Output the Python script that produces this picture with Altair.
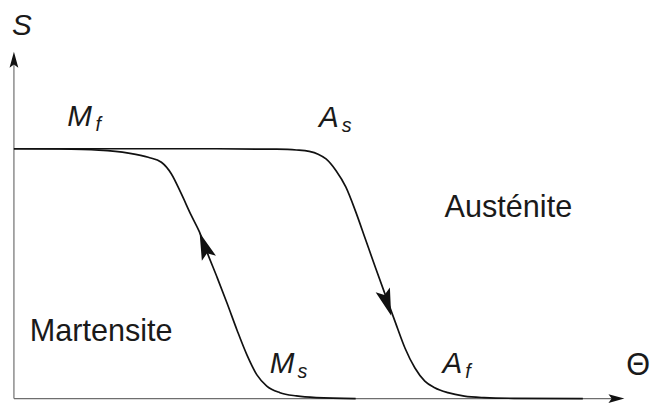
import altair as alt
import pandas as pd

# ---- data (Θ in arbitrary units, S from 0 to 1) ----
left_theta = [0, 0.92, 1.72, 2.32, 2.72, 2.986, 3.186, 3.386, 3.586, 3.754, 3.92,
              4.12, 4.32, 4.52, 4.72, 4.92, 5.12, 5.386, 5.72, 6.12, 6.92]
left_s = [1.0, 0.9988, 0.9941, 0.9822, 0.9656, 0.9458, 0.9000, 0.8209, 0.7352, 0.6680,
          0.5810, 0.4822, 0.3794, 0.2727, 0.1739, 0.0949, 0.0502, 0.0237, 0.0107, 0.0040, 0.0]
right_theta = [0, 3.72, 5.32, 5.72, 5.98, 6.16, 6.32, 6.52, 6.72, 6.92, 7.12, 7.32,
               7.52, 7.72, 7.92, 8.12, 8.32, 8.52, 8.786, 9.12, 9.52, 10.12, 11.52]
right_s = [1.0, 1.0, 0.998, 0.9949, 0.9893, 0.9783, 0.9593, 0.9130, 0.8470, 0.7482,
           0.6364, 0.5245, 0.4150, 0.3071, 0.2016, 0.1225, 0.0699, 0.0435, 0.0237,
           0.0099, 0.0040, 0.0012, 0.0]

# arrowheads on the curves (cooling goes up the left branch, heating down the right)
curve_arrow_theta = [3.854, 7.554]
curve_arrow_s = [0.6126, 0.3834]
curve_arrow_angle = [340, 162]

# axes
axis_x_end = 12.2
axis_y_end = 1.356

# labels
main_text = ["S", "M", "A", "M", "A"]
main_theta = [-0.04, 1.08, 6.18, 5.18, 8.68]
main_s = [1.455, 1.091, 1.087, 0.103, 0.103]
sub_text = ["f", "s", "s", "f"]
sub_theta = [1.65, 6.64, 5.74, 9.14]
sub_s = [1.071, 1.067, 0.083, 0.083]
word_text = ["Austénite", "Martensite", "Θ"]
word_theta = [8.72, 0.32, 12.4]
word_s = [0.727, 0.229, 0.095]

# ---- tables ----
curves = pd.concat([
    pd.DataFrame({"theta": left_theta, "s": left_s, "branch": "cool", "order": range(len(left_theta))}),
    pd.DataFrame({"theta": right_theta, "s": right_s, "branch": "heat", "order": range(len(right_theta))}),
])
curve_arrows = pd.DataFrame({"theta": curve_arrow_theta, "s": curve_arrow_s, "angle": curve_arrow_angle})
axes_df = pd.DataFrame({"theta": [0, 0], "s": [0, 0], "theta2": [axis_x_end, 0], "s2": [0, axis_y_end]})
axis_arrows = pd.DataFrame({"theta": [axis_x_end, 0], "s": [0, axis_y_end], "angle": [90, 0]})
main_df = pd.DataFrame({"label": main_text, "theta": main_theta, "s": main_s})
sub_df = pd.DataFrame({"label": sub_text, "theta": sub_theta, "s": sub_s})
word_df = pd.DataFrame({"label": word_text, "theta": word_theta, "s": word_s})

xs = alt.Scale(domain=[-0.12, 12.88], nice=False, zero=False)
ys = alt.Scale(domain=[-0.0079, 1.5534], nice=False, zero=False)
X = alt.X("theta:Q", scale=xs, axis=None)
Y = alt.Y("s:Q", scale=ys, axis=None)

ARROW = "M0,-1 L0.55,1 L0,0.6 L-0.55,1 Z"
FONT = "Liberation Sans"

axis_lines = alt.Chart(axes_df).mark_rule(color="#6e6e6e", strokeWidth=1.2).encode(
    x=X, y=Y, x2="theta2:Q", y2="s2:Q")
axis_heads = alt.Chart(axis_arrows).mark_point(
    shape=ARROW, filled=True, color="#111111", size=260, opacity=1).encode(
    x=X, y=Y, angle=alt.Angle("angle:Q", scale=None))

lines = alt.Chart(curves).mark_line(
    color="#111111", strokeWidth=1.7, interpolate="monotone").encode(
    x=X, y=Y, detail="branch:N", order="order:Q")
heads = alt.Chart(curve_arrows).mark_point(
    shape=ARROW, filled=True, color="#111111", size=760, opacity=1).encode(
    x=X, y=Y, angle=alt.Angle("angle:Q", scale=None))

main_lbl = alt.Chart(main_df).mark_text(
    font=FONT, fontStyle="italic", fontSize=30, align="left", baseline="alphabetic",
    color="#1a1a1a").encode(x=X, y=Y, text="label:N")
sub_lbl = alt.Chart(sub_df).mark_text(
    font=FONT, fontStyle="italic", fontSize=20, align="left", baseline="alphabetic",
    color="#1a1a1a").encode(x=X, y=Y, text="label:N")
word_lbl = alt.Chart(word_df).mark_text(
    font=FONT, fontSize=31, align="left", baseline="alphabetic",
    color="#1a1a1a").encode(x=X, y=Y, text="label:N")

chart = alt.layer(axis_lines, axis_heads, lines, heads, main_lbl, sub_lbl, word_lbl).properties(
    width=650, height=395,
    autosize=alt.AutoSizeParams(type="none"),
    padding=0,
).configure_view(stroke=None)

chart.save("out.html", embed_options={"renderer": "svg", "actions": False})
